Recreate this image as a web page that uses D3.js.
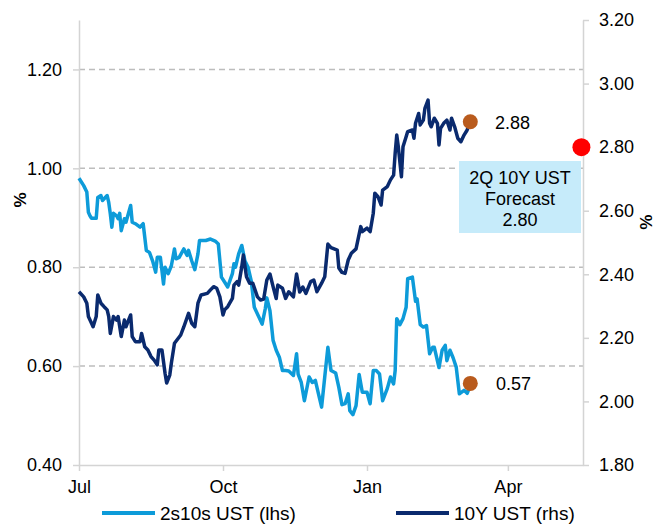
<!doctype html>
<meta charset="utf-8">
<title>2s10s vs 10Y UST</title>
<script src="https://cdn.jsdelivr.net/npm/d3@7/dist/d3.min.js"></script>
<style>
  body { margin: 0; background: #fff; }
  text { font-family: "Liberation Sans", Arial, sans-serif; fill: #000; }
</style>
<body>
<script>
// 2s10s UST spread (lhs, %)
var spread = [
  ["2017-07-03",0.98],["2017-07-06",0.965],["2017-07-08",0.952],["2017-07-09",0.911],["2017-07-10",0.904],
  ["2017-07-11",0.899],["2017-07-14",0.899],["2017-07-15",0.941],["2017-07-17",0.945],["2017-07-18",0.935],
  ["2017-07-21",0.945],["2017-07-22",0.931],["2017-07-23",0.908],["2017-07-24",0.881],["2017-07-25",0.909],
  ["2017-07-27",0.904],["2017-07-28",0.898],["2017-07-29",0.909],["2017-07-30",0.874],["2017-08-01",0.898],
  ["2017-08-02",0.891],["2017-08-05",0.925],["2017-08-06",0.891],["2017-08-08",0.888],["2017-08-11",0.881],
  ["2017-08-13",0.888],["2017-08-14",0.861],["2017-08-15",0.834],["2017-08-17",0.830],["2017-08-19",0.813],
  ["2017-08-21",0.790],["2017-08-22",0.820],["2017-08-24",0.820],["2017-08-26",0.766],["2017-08-27",0.800],
  ["2017-08-29",0.787],["2017-08-31",0.803],["2017-09-02",0.837],["2017-09-03",0.817],["2017-09-05",0.820],
  ["2017-09-08",0.837],["2017-09-10",0.824],["2017-09-11",0.834],["2017-09-13",0.813],["2017-09-15",0.795],
  ["2017-09-17",0.827],["2017-09-18",0.854],["2017-09-22",0.854],["2017-09-25",0.857],["2017-09-28",0.853],
  ["2017-09-30",0.847],["2017-10-02",0.780],["2017-10-04",0.770],["2017-10-06",0.760],["2017-10-09",0.787],
  ["2017-10-10",0.807],["2017-10-11",0.800],["2017-10-13",0.827],["2017-10-15",0.844],["2017-10-17",0.813],
  ["2017-10-19",0.800],["2017-10-21",0.773],["2017-10-23",0.719],["2017-10-26",0.699],["2017-10-28",0.685],
  ["2017-10-30",0.716],["2017-10-31",0.738],["2017-11-02",0.712],["2017-11-04",0.652],["2017-11-06",0.632],
  ["2017-11-08",0.618],["2017-11-10",0.591],["2017-11-12",0.591],["2017-11-14",0.590],["2017-11-17",0.581],
  ["2017-11-19",0.625],["2017-11-20",0.584],["2017-11-22",0.567],["2017-11-24",0.530],["2017-11-27",0.578],
  ["2017-11-29",0.567],["2017-12-01",0.571],["2017-12-03",0.544],["2017-12-05",0.517],["2017-12-07",0.578],
  ["2017-12-09",0.638],["2017-12-11",0.591],["2017-12-14",0.586],["2017-12-16",0.557],["2017-12-18",0.522],
  ["2017-12-20",0.524],["2017-12-22",0.544],["2017-12-23",0.510],["2017-12-25",0.502],["2017-12-27",0.520],
  ["2017-12-29",0.583],["2017-12-31",0.547],["2018-01-03",0.547],["2018-01-05",0.524],["2018-01-07",0.591],
  ["2018-01-09",0.591],["2018-01-11",0.584],["2018-01-13",0.530],["2018-01-16",0.555],["2018-01-18",0.578],
  ["2018-01-20",0.564],["2018-01-21",0.591],["2018-01-22",0.696],["2018-01-24",0.684],["2018-01-26",0.696],
  ["2018-01-28",0.719],["2018-01-29",0.777],["2018-02-01",0.780],["2018-02-03",0.731],["2018-02-04",0.736],
  ["2018-02-06",0.684],["2018-02-08",0.679],["2018-02-10",0.682],["2018-02-12",0.625],["2018-02-14",0.638],
  ["2018-02-15",0.638],["2018-02-18",0.597],["2018-02-20",0.632],["2018-02-22",0.642],["2018-02-23",0.611],
  ["2018-02-25",0.632],["2018-02-27",0.617],["2018-03-01",0.598],["2018-03-03",0.544],["2018-03-06",0.551],
  ["2018-03-08",0.545],["2018-03-09",0.553]
];

// 10Y UST yield (rhs, %)
var tenYear = [
  ["2017-07-03",2.345],["2017-07-06",2.329],["2017-07-08",2.309],["2017-07-09",2.267],["2017-07-11",2.246],
  ["2017-07-12",2.235],["2017-07-14",2.267],["2017-07-15",2.335],["2017-07-17",2.309],["2017-07-19",2.298],
  ["2017-07-21",2.288],["2017-07-22",2.267],["2017-07-23",2.214],["2017-07-25",2.267],["2017-07-27",2.256],
  ["2017-07-28",2.267],["2017-07-30",2.204],["2017-08-01",2.256],["2017-08-02",2.235],["2017-08-05",2.272],
  ["2017-08-06",2.204],["2017-08-08",2.188],["2017-08-11",2.188],["2017-08-12",2.214],["2017-08-14",2.172],
  ["2017-08-16",2.162],["2017-08-18",2.141],["2017-08-20",2.130],["2017-08-22",2.115],["2017-08-23",2.162],
  ["2017-08-25",2.162],["2017-08-27",2.088],["2017-08-28",2.058],["2017-08-30",2.083],["2017-08-31",2.120],
  ["2017-09-02",2.183],["2017-09-06",2.209],["2017-09-08",2.235],["2017-09-11",2.277],["2017-09-13",2.246],
  ["2017-09-15",2.235],["2017-09-17",2.309],["2017-09-19",2.335],["2017-09-23",2.340],["2017-09-25",2.351],
  ["2017-09-27",2.361],["2017-09-29",2.356],["2017-10-01",2.329],["2017-10-03",2.272],["2017-10-04",2.288],
  ["2017-10-06",2.298],["2017-10-09",2.324],["2017-10-10",2.366],["2017-10-12",2.377],["2017-10-13",2.366],
  ["2017-10-15",2.424],["2017-10-16",2.461],["2017-10-18",2.392],["2017-10-20",2.372],["2017-10-22",2.372],
  ["2017-10-25",2.329],["2017-10-27",2.319],["2017-10-29",2.322],["2017-10-31",2.382],["2017-11-02",2.401],
  ["2017-11-04",2.361],["2017-11-06",2.324],["2017-11-07",2.366],["2017-11-10",2.356],["2017-11-12",2.324],
  ["2017-11-14",2.345],["2017-11-17",2.329],["2017-11-19",2.401],["2017-11-21",2.344],["2017-11-23",2.360],
  ["2017-11-25",2.340],["2017-11-28",2.377],["2017-11-30",2.382],["2017-12-02",2.345],["2017-12-05",2.372],
  ["2017-12-07",2.392],["2017-12-09",2.495],["2017-12-11",2.484],["2017-12-15",2.476],["2017-12-16",2.420],
  ["2017-12-18",2.406],["2017-12-20",2.403],["2017-12-22",2.445],["2017-12-24",2.466],["2017-12-27",2.480],
  ["2017-12-30",2.550],["2017-12-31",2.534],["2018-01-03",2.545],["2018-01-05",2.534],["2018-01-07",2.592],
  ["2018-01-08",2.655],["2018-01-10",2.644],["2018-01-12",2.618],["2018-01-13",2.665],["2018-01-16",2.676],
  ["2018-01-18",2.697],["2018-01-20",2.712],["2018-01-21",2.781],["2018-01-22",2.838],["2018-01-23",2.801],
  ["2018-01-25",2.707],["2018-01-26",2.801],["2018-01-28",2.833],["2018-01-29",2.849],["2018-02-01",2.854],
  ["2018-02-02",2.828],["2018-02-03",2.875],["2018-02-05",2.906],["2018-02-06",2.870],["2018-02-08",2.885],
  ["2018-02-09",2.922],["2018-02-11",2.948],["2018-02-12",2.875],["2018-02-13",2.864],["2018-02-15",2.891],
  ["2018-02-17",2.875],["2018-02-18",2.807],["2018-02-19",2.859],["2018-02-21",2.875],["2018-02-23",2.885],
  ["2018-02-25",2.854],["2018-02-26",2.891],["2018-02-28",2.864],["2018-03-02",2.828],["2018-03-04",2.817],
  ["2018-03-06",2.838],["2018-03-08",2.854],["2018-03-09",2.867]
];

var lastDate = "2018-03-10";
var lastSpread = 0.565, lastSpreadLabel = "0.57";
var lastTenYear = 2.88, lastTenYearLabel = "2.88";
var forecastDate = "2018-05-20", forecastValue = 2.80;
var forecastText = ["2Q 10Y UST", "Forecast", "2.80"];

var leftTicks = [0.40, 0.60, 0.80, 1.00, 1.20];
var rightTicks = [1.80, 2.00, 2.20, 2.40, 2.60, 2.80, 3.00, 3.20];
var monthTicks = ["2017-07-03", "2017-10-03", "2018-01-03", "2018-04-03"];
var legendNames = ["2s10s UST (lhs)", "10Y UST (rhs)"];

var width = 653, height = 524;
var m = {top: 20, right: 70, bottom: 59, left: 79};
var lightBlue = "#0d9bd9", navy = "#0a2a6e", grey = "#d4d4d4";

var parse = d3.timeParse("%Y-%m-%d");

var svg = d3.select("body").append("svg")
  .attr("width", width)
  .attr("height", height);

var x = d3.scaleTime()
  .domain([parse("2017-07-03"), parse("2018-05-21")])
  .range([m.left, width - m.right]);
var yL = d3.scaleLinear().domain([0.40, 1.30]).range([height - m.bottom, m.top]);
var yR = d3.scaleLinear().domain([1.80, 3.20]).range([height - m.bottom, m.top]);

// dashed gridlines from the left axis
svg.append("g").selectAll("line")
  .data(leftTicks.slice(1))
  .enter().append("line")
  .attr("x1", m.left).attr("x2", width - m.right)
  .attr("y1", function(d) { return yL(d); })
  .attr("y2", function(d) { return yL(d); })
  .attr("stroke", "#bdbdbd")
  .attr("stroke-width", 1.5)
  .attr("stroke-dasharray", "6,4");

function styleAxis(g) {
  g.select(".domain").attr("stroke", grey).attr("stroke-width", 1.5);
  g.selectAll(".tick line").attr("stroke", grey).attr("stroke-width", 1.5);
  g.selectAll(".tick text").style("font-size", "18px").attr("fill", "#000");
}

svg.append("g")
  .attr("transform", "translate(" + m.left + ",0)")
  .call(d3.axisLeft(yL).tickValues(leftTicks).tickSize(6).tickPadding(11).tickSizeOuter(0)
    .tickFormat(d3.format(".2f")))
  .call(styleAxis);

svg.append("g")
  .attr("transform", "translate(" + (width - m.right) + ",0)")
  .call(d3.axisRight(yR).tickValues(rightTicks).tickSize(6).tickPadding(10).tickSizeOuter(0)
    .tickFormat(d3.format(".2f")))
  .call(styleAxis);

svg.append("g")
  .attr("transform", "translate(0," + (height - m.bottom) + ")")
  .call(d3.axisBottom(x).tickValues(monthTicks.map(parse)).tickSize(6).tickPadding(9).tickSizeOuter(0)
    .tickFormat(d3.timeFormat("%b")))
  .call(styleAxis);

// axis unit labels
svg.append("text")
  .attr("transform", "translate(20,200) rotate(-90)")
  .attr("text-anchor", "middle").attr("dominant-baseline", "central")
  .style("font-size", "17px").style("font-weight", "bold")
  .text("%");
svg.append("text")
  .attr("transform", "translate(645,222) rotate(90)")
  .attr("text-anchor", "middle").attr("dominant-baseline", "central")
  .style("font-size", "17px").style("font-weight", "bold")
  .text("%");

// series
var lineL = d3.line()
  .x(function(d) { return x(parse(d[0])); })
  .y(function(d) { return yL(d[1]); });
var lineR = d3.line()
  .x(function(d) { return x(parse(d[0])); })
  .y(function(d) { return yR(d[1]); });

svg.append("path").datum(spread)
  .attr("d", lineL).attr("fill", "none")
  .attr("stroke", lightBlue).attr("stroke-width", 3.5).attr("stroke-linejoin", "round");
svg.append("path").datum(tenYear)
  .attr("d", lineR).attr("fill", "none")
  .attr("stroke", navy).attr("stroke-width", 3.5).attr("stroke-linejoin", "round");

// forecast box
var bx = 459, by = 161, bw = 122, bh = 72;
svg.append("rect")
  .attr("x", bx).attr("y", by).attr("width", bw).attr("height", bh)
  .attr("fill", "#c6ebfa");
svg.append("g").selectAll("text")
  .data(forecastText)
  .enter().append("text")
  .attr("x", bx + bw / 2)
  .attr("y", function(d, i) { return 178 + i * 21; })
  .attr("text-anchor", "middle").attr("dominant-baseline", "central")
  .style("font-size", "18px")
  .text(function(d) { return d; });

// end markers
svg.append("circle")
  .attr("cx", x(parse(lastDate))).attr("cy", yR(lastTenYear)).attr("r", 7.5)
  .attr("fill", "#b95b1d");
svg.append("circle")
  .attr("cx", x(parse(lastDate))).attr("cy", yL(lastSpread)).attr("r", 7.5)
  .attr("fill", "#b95b1d");
svg.append("text")
  .attr("x", 495).attr("y", yR(lastTenYear) + 1)
  .attr("dominant-baseline", "central").style("font-size", "18px")
  .text(lastTenYearLabel);
svg.append("text")
  .attr("x", 496).attr("y", yL(lastSpread) + 1)
  .attr("dominant-baseline", "central").style("font-size", "18px")
  .text(lastSpreadLabel);
svg.append("circle")
  .attr("cx", x(parse(forecastDate))).attr("cy", yR(forecastValue)).attr("r", 9)
  .attr("fill", "#ff0000");

// legend
var legend = svg.append("g").selectAll("g")
  .data(legendNames)
  .enter().append("g")
  .attr("transform", function(d, i) { return "translate(" + [102, 396][i] + ",513)"; });
legend.append("line")
  .attr("x1", 0).attr("x2", 53)
  .attr("stroke", function(d, i) { return [lightBlue, navy][i]; })
  .attr("stroke-width", 4);
legend.append("text")
  .attr("x", 58).attr("y", 0)
  .attr("dominant-baseline", "central")
  .style("font-size", "19px")
  .text(function(d) { return d; });
</script>
</body>
